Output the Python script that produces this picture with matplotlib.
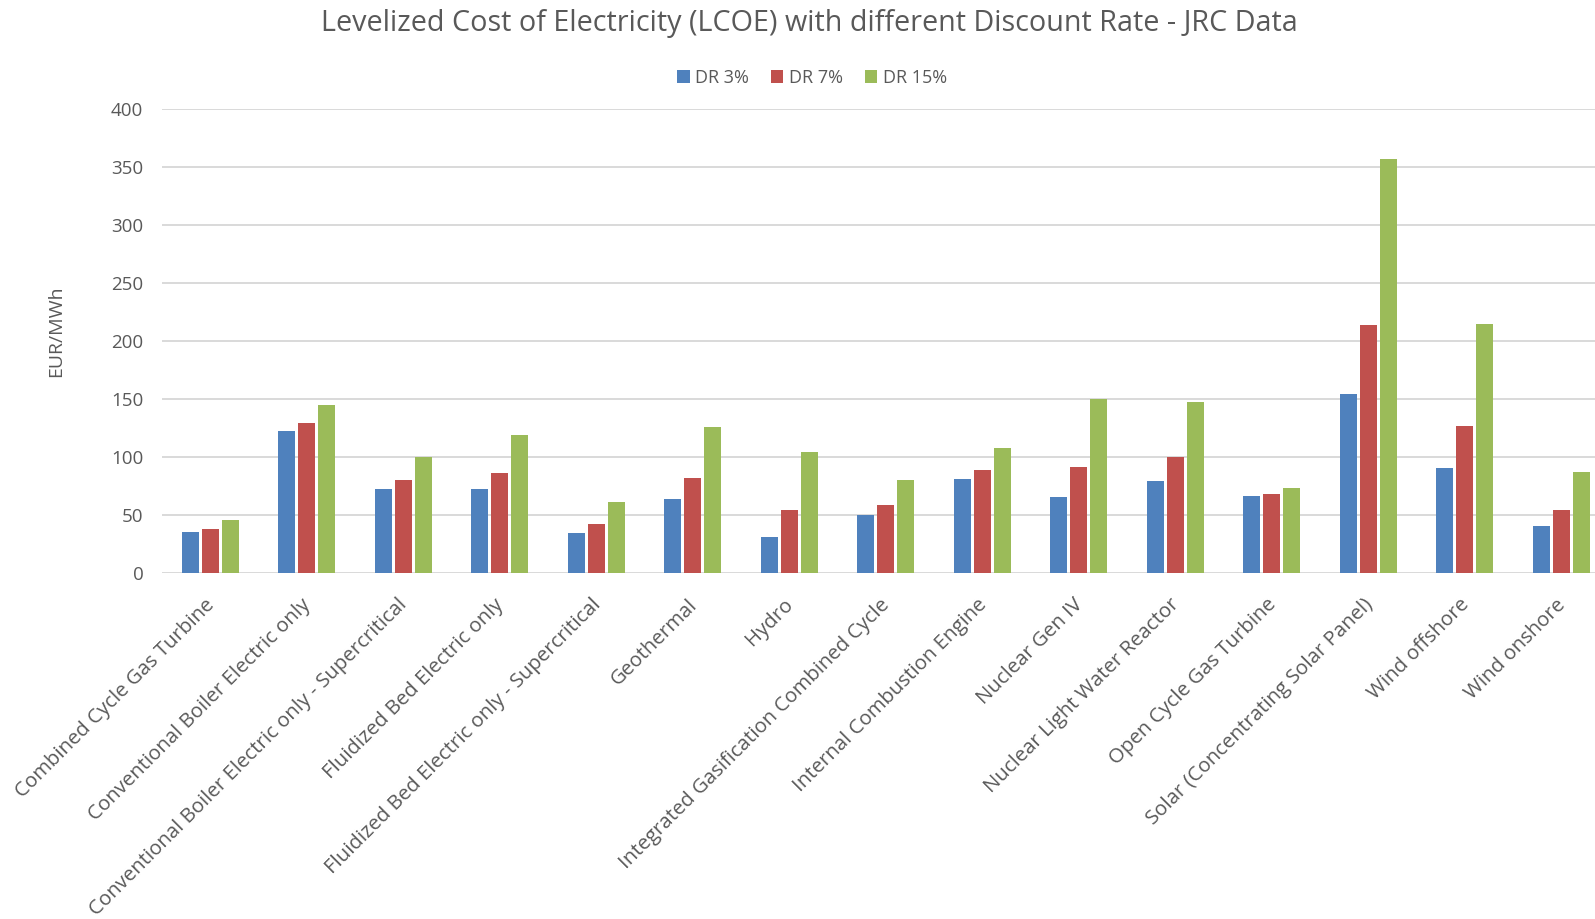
import numpy as np
import matplotlib
matplotlib.use('Agg')
import matplotlib.pyplot as plt
from matplotlib.patches import Patch
import matplotlib.transforms as mtransforms

plt.rcParams['font.family'] = ['Open Sans', 'DejaVu Sans']

technologies = ['Combined Cycle Gas Turbine',
                'Conventional Boiler Electric only',
                'Conventional Boiler Electric only - Supercritical',
                'Fluidized Bed Electric only',
                'Fluidized Bed Electric only - Supercritical',
                'Geothermal',
                'Hydro',
                'Integrated Gasification Combined Cycle',
                'Internal Combustion Engine',
                'Nuclear Gen IV',
                'Nuclear Light Water Reactor',
                'Open Cycle Gas Turbine',
                'Solar (Concentrating Solar Panel)',
                'Wind offshore',
                'Wind onshore']

# LCOE in EUR/MWh
dr3 = [35, 122, 72, 72, 34, 63.5, 31, 49.6, 80.8, 65.2, 79, 66, 154, 90.5, 40.7]
dr7 = [38, 129, 80, 85.7, 41.8, 82, 54.5, 58.3, 88.9, 90.9, 100, 68.3, 213.5, 126.8, 54.5]
dr15 = [45.6, 144.6, 99.6, 119, 61, 125.8, 104.5, 80, 107.4, 150, 147.2, 72.9, 357, 214.5, 86.5]

series_names = ['DR 3%', 'DR 7%', 'DR 15%']
colors = ['#4F81BD', '#C0504D', '#9BBB59']
text_grey = '#595959'

fig = plt.figure(figsize=(15.95, 9.19), dpi=100)
ax = fig.add_axes([162/1595, 1 - 572.7/919, 1 - 162/1595, (572.7 - 109.3)/919])

x = np.arange(len(technologies))
pitch = 0.207
for i, (vals, col) in enumerate(zip([dr3, dr7, dr15], colors)):
    ax.bar(x + (i - 1)*pitch, vals, width=0.174, color=col, zorder=3)

ax.set_xlim(-0.5, 14.35)
ax.set_ylim(0, 400)
ax.set_yticks(np.arange(0, 401, 50))
ax.yaxis.grid(True, color='#D9D9D9', linewidth=1.4, zorder=0)
ax.set_axisbelow(True)
for s in ax.spines.values():
    s.set_visible(False)
ax.tick_params(axis='y', length=0, pad=13.5, labelsize=13.5, labelcolor=text_grey)
ax.tick_params(axis='x', length=0, pad=4)

ax.set_xticks(x)
ax.set_xticklabels(technologies, rotation=45, ha='right', va='center',
                   rotation_mode='anchor', fontsize=14.7, color=text_grey)
# nudge rotated labels so their ends sit under the groups like the original
offset = mtransforms.ScaledTranslation(1/72, -17/72, fig.dpi_scale_trans)
for lab in ax.get_xticklabels():
    lab.set_transform(lab.get_transform() + offset)

fig.text(56/1595, 1 - 331/919, 'EUR/MWh', rotation=90, ha='center', va='center',
         fontsize=14, color=text_grey)

fig.text(809/1595, 1 - 24/919,
         'Levelized Cost of Electricity (LCOE) with different Discount Rate - JRC Data',
         ha='center', va='center', fontsize=20.7, color=text_grey)

handles = [Patch(facecolor=c, label=n) for c, n in zip(colors, series_names)]
fig.legend(handles=handles, loc='center', bbox_to_anchor=(812/1595, 1 - 78/919),
           ncol=3, frameon=False, fontsize=13, labelcolor=text_grey,
           handlelength=0.7, handleheight=0.7, handletextpad=0.3, columnspacing=1.2)

fig.savefig('out.png', dpi=100)
